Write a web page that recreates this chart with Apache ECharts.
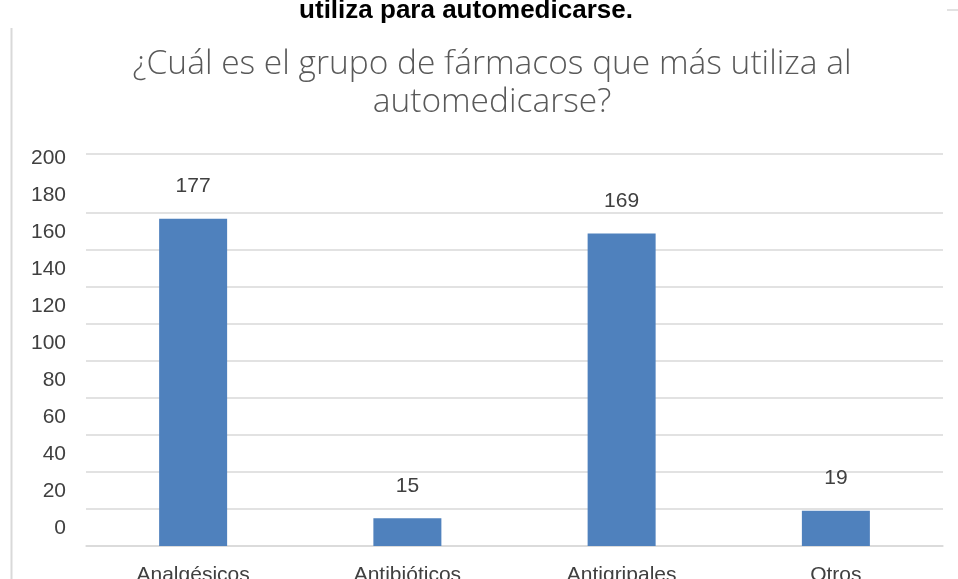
<!DOCTYPE html>
<html>
<head>
<meta charset="utf-8">
<script src="https://cdn.jsdelivr.net/npm/echarts@6/dist/echarts.min.js"></script>
<style>
  html, body { margin: 0; padding: 0; background: #fff; }
  #chart { width: 958px; height: 579px; }
</style>
</head>
<body>
<div id="chart"></div>
<script>
const categories = ['Analgésicos', 'Antibióticos', 'Antigripales', 'Otros'];
const values = [177, 15, 169, 19];
const yTicks = [0, 20, 40, 60, 80, 100, 120, 140, 160, 180, 200];

const theme = {
  bar: '#4f81bd',
  text: '#404040',
  title: '#595959',
  grid: '#d9d9d9'
};

// the 200 line is missing in the source picture, the top border sits above it
const gridColors = yTicks.map(v => (v === 200 ? 'rgba(0,0,0,0)' : theme.grid));
gridColors.push(theme.grid);

const chart = echarts.init(document.getElementById('chart'));

chart.setOption({
  backgroundColor: '#fff',
  animation: false,
  title: [
    {
      text: 'utiliza para automedicarse.',
      left: 466,
      top: -2,
      padding: 0,
      textAlign: 'center',
      textStyle: { fontFamily: 'Liberation Sans', fontWeight: 'bold', fontSize: 26, color: '#000' }
    },
    {
      text: '¿Cuál es el grupo de fármacos que más utiliza al\nautomedicarse?',
      left: 492,
      top: 45,
      padding: 0,
      textAlign: 'center',
      textStyle: { fontFamily: 'Open Sans', fontWeight: 300, fontSize: 33.5, lineHeight: 38, color: theme.title }
    }
  ],
  grid: { left: 86, right: 15, top: 154, bottom: 33, outerBoundsMode: 'none' },
  xAxis: {
    type: 'category',
    data: categories,
    axisLine: { lineStyle: { color: theme.grid, width: 1.5 } },
    axisTick: { show: false },
    axisLabel: { color: theme.text, fontFamily: 'Liberation Sans', fontSize: 21, margin: 19 }
  },
  yAxis: {
    type: 'value',
    min: 0,
    max: 212,
    interval: 20,
    axisLine: { show: false },
    axisTick: { show: false },
    axisLabel: {
      color: theme.text,
      fontFamily: 'Liberation Sans',
      fontSize: 21,
      margin: 20,
      verticalAlign: 'bottom',
      lineHeight: 36,
      showMinLabel: true,
      formatter: v => (yTicks.includes(v) ? String(v) : '')
    },
    splitLine: { lineStyle: { color: gridColors, width: 1.5 } }
  },
  series: [
    {
      type: 'bar',
      data: values,
      barWidth: 68,
      itemStyle: { color: theme.bar },
      label: {
        show: true,
        position: 'top',
        distance: 22,
        color: theme.text,
        fontFamily: 'Liberation Sans',
        fontSize: 21
      }
    }
  ],
  graphic: [
    { type: 'line', shape: { x1: 11.5, y1: 28, x2: 11.5, y2: 579 }, style: { stroke: '#d9d9d9', lineWidth: 2 } },
    { type: 'line', shape: { x1: 947, y1: 10, x2: 958, y2: 10 }, style: { stroke: '#d9d9d9', lineWidth: 1.5 } }
  ]
});
</script>
</body>
</html>
